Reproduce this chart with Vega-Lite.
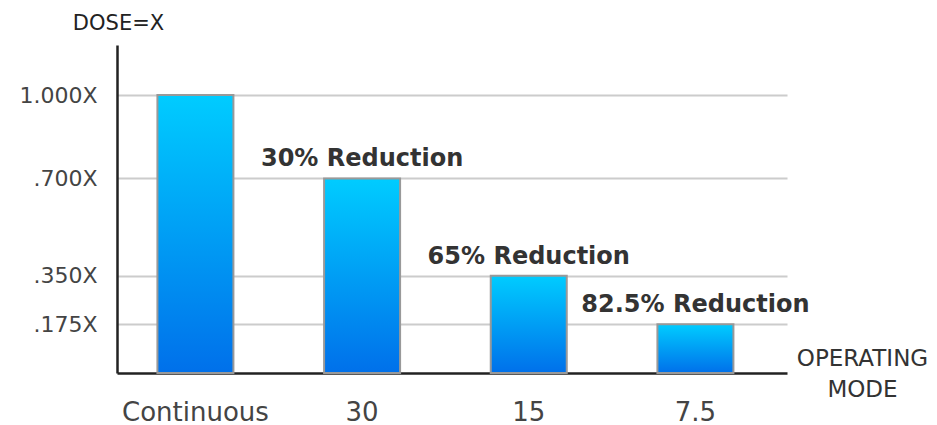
{
  "$schema": "https://vega.github.io/schema/vega-lite/v6.json",
  "width": 670,
  "height": 328,
  "autosize": {"type": "none"},
  "padding": {"left": 117, "top": 45, "right": 150, "bottom": 52},
  "background": "#ffffff",
  "config": {"view": {"stroke": null}, "font": "DejaVu Sans"},
  "data": {
    "values": [
      {"mode": "Continuous", "dose": 1.0, "label": ""},
      {"mode": "30", "dose": 0.7, "label": "30% Reduction"},
      {"mode": "15", "dose": 0.35, "label": "65% Reduction"},
      {"mode": "7.5", "dose": 0.175, "label": "82.5% Reduction"}
    ]
  },
  "encoding": {
    "x": {
      "field": "mode",
      "type": "nominal",
      "sort": null,
      "scale": {"paddingInner": 0.544, "paddingOuter": 0.282, "align": 0.43},
      "axis": {
        "title": ["OPERATING", "MODE"],
        "titleFont": "DejaVu Sans",
        "titleFontSize": 23,
        "titleFontWeight": "normal",
        "titleColor": "#333333",
        "titleAnchor": "middle",
        "titleAlign": "center",
        "titleBaseline": "alphabetic",
        "titleLineHeight": 31,
        "titleX": 745,
        "titleY": -8,
        "labelAngle": 0,
        "labelFontSize": 26,
        "labelColor": "#444444",
        "labelPadding": 47,
        "labelBaseline": "alphabetic",
        "ticks": false,
        "domainColor": "#222222",
        "domainWidth": 2.5
      }
    },
    "y": {
      "field": "dose",
      "type": "quantitative",
      "scale": {"domain": [0, 1.18], "nice": false},
      "axis": {
        "values": [0.175, 0.35, 0.7, 1],
        "labelExpr": "datum.value == 1 ? '1.000X' : datum.value == 0.7 ? '.700X' : datum.value == 0.35 ? '.350X' : '.175X'",
        "labelFontSize": 22,
        "labelColor": "#444444",
        "labelPadding": 20,
        "ticks": false,
        "grid": true,
        "gridColor": "#cccccc",
        "gridWidth": 2,
        "domainColor": "#222222",
        "domainWidth": 2.5,
        "title": "DOSE=X",
        "titleAngle": 0,
        "titleFontSize": 21,
        "titleFontWeight": "normal",
        "titleColor": "#222222",
        "titleAlign": "center",
        "titleBaseline": "alphabetic",
        "titleX": 1,
        "titleY": -16
      }
    }
  },
  "layer": [
    {
      "mark": {
        "type": "bar",
        "stroke": "#999999",
        "strokeWidth": 2,
        "color": {
          "gradient": "linear",
          "x1": 0, "y1": 0, "x2": 0, "y2": 1,
          "stops": [
            {"offset": 0, "color": "#00ccff"},
            {"offset": 1, "color": "#0070ea"}
          ]
        }
      }
    },
    {
      "mark": {
        "type": "text",
        "fontSize": 24,
        "fontWeight": "bold",
        "color": "#333333",
        "baseline": "alphabetic",
        "dy": -12
      },
      "encoding": {"text": {"field": "label"}}
    }
  ]
}
